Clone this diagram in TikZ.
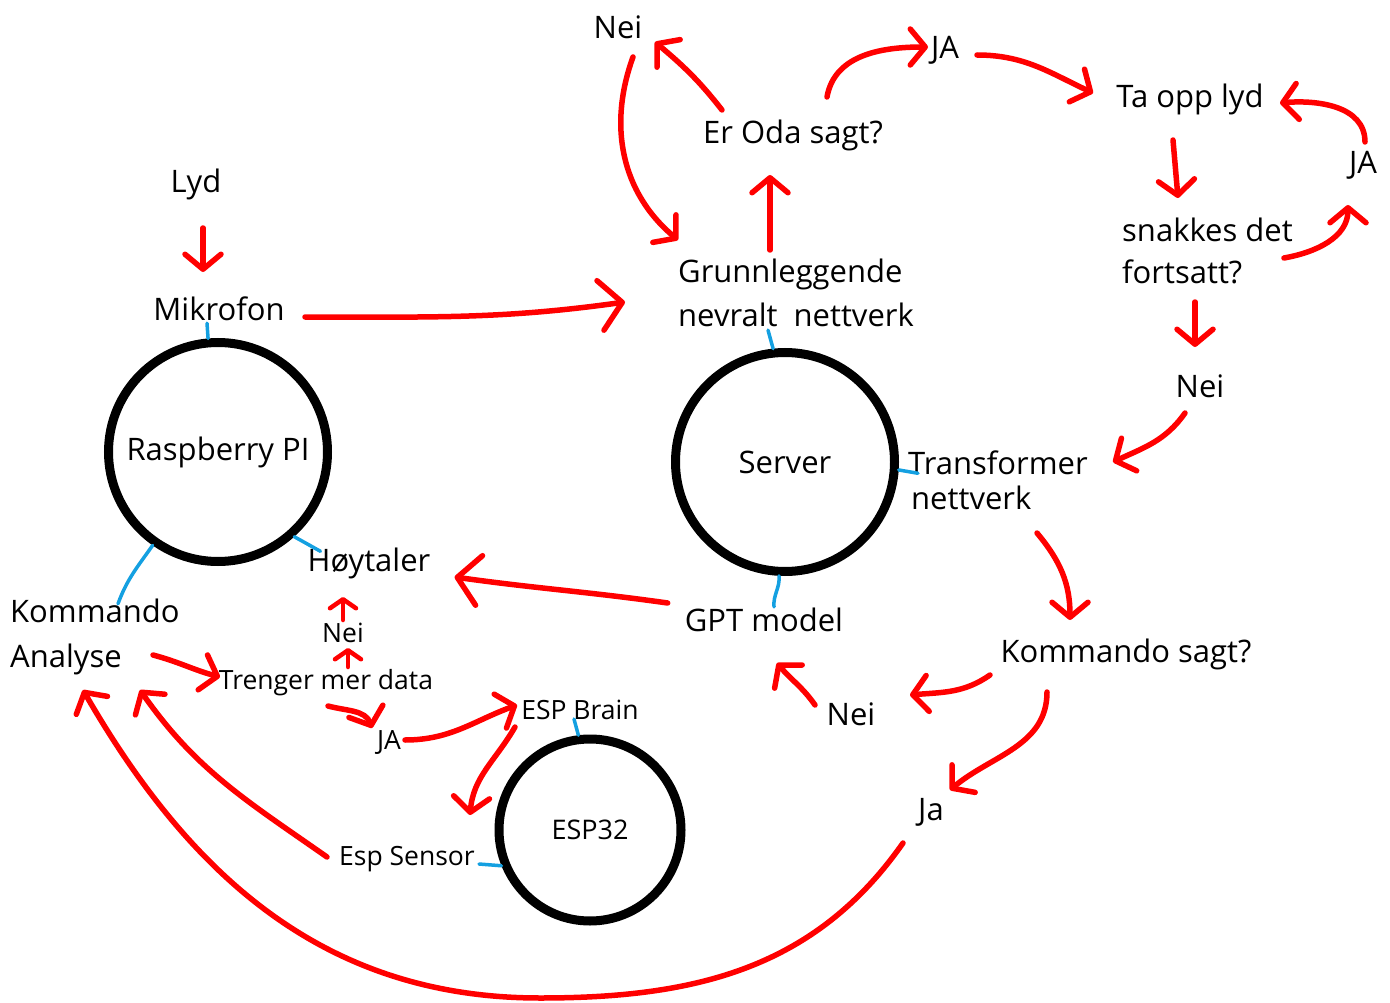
\documentclass[tikz,border=0pt]{standalone}
\usepackage{fontspec}
\setmainfont{Open Sans}
\usetikzlibrary{arrows.meta,calc}
\definecolor{tick}{RGB}{20,160,225}
\begin{document}
\begin{tikzpicture}[x=1pt,y=-1pt,
  txt/.style={inner sep=0pt, font=\fontsize{31}{37}\selectfont},
  sml/.style={inner sep=0pt, font=\fontsize{26.5}{31}\selectfont},
  circ/.style={circle, draw=black, line width=9pt, inner sep=0pt},
  rarr/.style={draw=red, line width=5.5pt, line cap=round, line join=round,
    -{Straight Barb[length=15pt,width=36pt,round]}},
  rbig/.style={rarr, -{Straight Barb[length=22pt,width=50pt,round]}},
  rsml/.style={rarr, line width=4.5pt, -{Straight Barb[length=9pt,width=26pt,round]}},
  btick/.style={draw=tick, line width=3.5pt, line cap=round}]
\useasboundingbox (0,0) rectangle (1390,1003);

% circles
\node[circ, minimum size=219pt, font=\fontsize{31}{37}\selectfont] (rpi) at (218,452) {Raspberry PI};
\node[circ, minimum size=219pt, font=\fontsize{31}{37}\selectfont] (server) at (785,462) {Server};
\node[circ, minimum size=182pt, font=\fontsize{27}{32}\selectfont] (esp) at (590,830) {ESP32};

% texts
\node[txt] (neiA) at (618,27) {Nei};
\node[txt] (oda) at (793,135) {Er Oda sagt?};
\node[txt] (jaA) at (945,50) {JA};
\node[txt] (tolyd) at (1190,99) {Ta opp lyd};
\node[txt] (jaB) at (1363,165) {JA};
\node[txt, align=left, anchor=west, font=\fontsize{31}{42}\selectfont] (snak) at (1122,251) {snakkes det\\fortsatt?};
\node[txt] (neiB) at (1200,386) {Nei};
\node[txt] (lyd) at (196,184) {Lyd};
\node[txt] (mik) at (219,309) {Mikrofon};
\node[txt, align=left, anchor=west, font=\fontsize{31}{44}\selectfont] (grunn) at (678,293) {Grunnleggende\\nevralt\ \ nettverk};
\node[txt, align=left, anchor=west, font=\fontsize{31}{35}\selectfont] (trans) at (908,480) {Transformer\\\hspace*{3pt}nettverk};
\node[txt] (hoyt) at (369,563) {Høytaler};
\node[txt, align=left, anchor=west, font=\fontsize{31}{45}\selectfont] (komm) at (10,637) {Kommando\\Analyse};
\node[sml] (neiS) at (343,633) {Nei};
\node[sml] (treng) at (326,683) {Trenger mer data};
\node[txt] (gpt) at (764,620) {GPT model};
\node[txt] (ksagt) at (1126,654) {Kommando sagt?};
\node[txt] (neiC) at (851,714) {Nei};
\node[sml] (espb) at (580,710) {ESP Brain};
\node[sml] (jaS) at (389,742) {JA};
\node[sml] (espS) at (407,859) {Esp Sensor};
\node[txt] (jaC) at (931,812) {Ja};

% blue ticks
\draw[btick] (rpi.95) -- ($(mik.south)+(-12,2)$);
\draw[btick] (rpi.235) to[out=235,in=70] ($(komm.north west)+(108,5)$);
\draw[btick] (rpi.312) -- ($(hoyt.north west)+(13,4)$);
\draw[btick] (server.96) -- ($(grunn.south west)+(90,3)$);
\draw[btick] (server.-4) -- ($(trans.north west)+(10,23)$);
\draw[btick] (server.-93) to[out=-85,in=95] ($(gpt.north)+(10,-1)$);
\draw[btick] (esp.97) -- ($(espb.south)+(-6,-1)$);
\draw[btick] (esp.202) -- ($(espS.east)+(4,5)$);

% red arrows
\draw[rarr] ($(lyd)+(7,44)$) -- ($(mik)+(-16,-37)$);
\draw[rbig] ($(mik)+(86,8)$) to[out=0,in=188] ($(grunn.west)+(-53,9)$);
\draw[rarr] ($(oda)+(-23,115)$) -- ($(oda)+(-23,40)$);
\draw[rarr] ($(oda)+(-71,-25)$) to[out=128,in=-40] ($(neiA)+(37,15)$);
\draw[rarr] ($(neiA)+(15,30)$) to[out=250,in=140] ($(grunn.west)+(0,-53)$);
\draw[rarr] ($(oda)+(34,-38)$) to[out=80,in=180] ($(jaA)+(-17,-3)$);
\draw[rarr] ($(jaA)+(32,5)$) to[out=0,in=155] ($(tolyd)+(-97,-6)$);
\draw[rarr] ($(tolyd)+(-17,41)$) -- ($(tolyd)+(-12,99)$);
\draw[rarr] ($(snak.east)+(-9,7)$) to[out=10,in=-90] ($(jaB)+(-15,40)$);
\draw[rarr] ($(jaB)+(2,-23)$) to[out=90,in=5] ($(tolyd)+(90,4)$);
\draw[rarr] ($(neiB)+(-5,-84)$) -- ($(neiB)+(-5,-39)$);
\draw[rarr] ($(neiB)+(-15,27)$) to[out=-125,in=25] ($(neiB)+(-87,76)$);
\draw[rarr] ($(ksagt)+(-89,-121)$) to[out=-50,in=90] ($(ksagt)+(-56,-34)$);
\draw[rarr] ($(ksagt)+(-136,21)$) to[out=-145,in=5] ($(neiC)+(59,-19)$);
\draw[rarr] ($(ksagt)+(-79,38)$) to[out=-90,in=40] ($(jaC)+(19,-22)$);
\draw[rarr] ($(neiC)+(-36,-9)$) to[out=125,in=-50] ($(gpt)+(13,43)$);
\draw[rbig] ($(gpt.west)+(-17,-17)$) to[out=172,in=-8] ($(hoyt.east)+(24,14)$);
\draw[rarr] ($(jaC)+(-28,31)$) to[out=-125,in=0] (540,998) to[out=180,in=-60] ($(komm.west)+(73,53)$);
\draw[rarr] ($(espS)+(-80,-2)$) to[out=145,in=-55] ($(komm.west)+(130,53)$);
\draw[rarr] ($(komm.west)+(143,18)$) to[out=-15,in=165] ($(treng)+(-106,-6)$);
\draw[rsml] ($(neiS)+(5,34)$) -- ($(neiS)+(5,15)$);
\draw[rsml] ($(neiS)+(0,-13)$) -- ($(hoyt)+(-26,34)$);
\draw[rarr] ($(treng)+(2,23)$) to[out=-15,in=110] ($(jaS)+(-17,-14)$);
\draw[rarr] ($(jaS)+(16,-2)$) to[out=0,in=200] ($(espb)+(-63,-5)$);
\draw[rarr] ($(espb)+(-65,17)$) to[out=-120,in=85] ($(esp)+(-120,-15)$);
\end{tikzpicture}
\end{document}
